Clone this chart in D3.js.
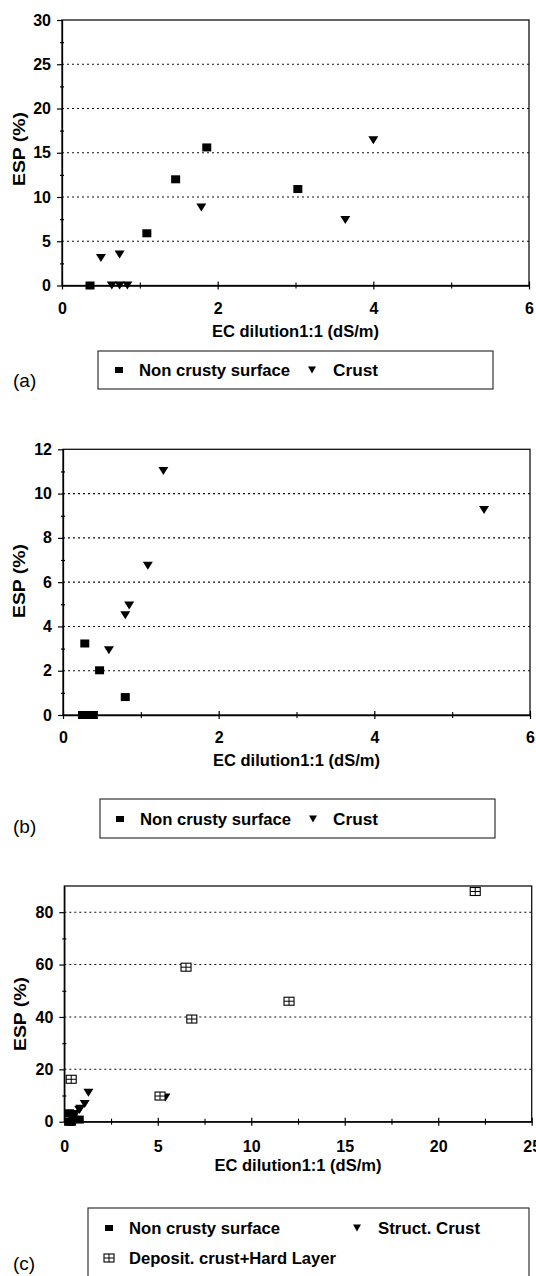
<!DOCTYPE html>
<html>
<head>
<meta charset="utf-8">
<script src="https://cdn.jsdelivr.net/npm/d3@7"></script>
<style>
  html, body { margin: 0; padding: 0; background: #fff; }
  svg { display: block; }
  text { font-family: "Liberation Sans", Arial, Helvetica, sans-serif; fill: #000; }
</style>
</head>
<body>
<svg id="chart" width="536" height="1276"></svg>
<script>
// ---------- DATA ----------
// Panel (a)
const aXTicks = [0, 2, 4, 6];
const aXMinor = [1, 3, 5];
const aYTicks = [0, 5, 10, 15, 20, 25, 30];
const aYMinor = [2.5, 7.5, 12.5, 17.5, 22.5, 27.5];
const aNonCrustyEC  = [0.36, 1.09, 1.46, 1.86, 3.03];
const aNonCrustyESP = [0, 5.9, 12.0, 15.6, 10.9];
const aCrustEC  = [0.50, 0.74, 1.79, 3.64, 4.00, 0.64, 0.74, 0.84];
const aCrustESP = [3.1, 3.5, 8.8, 7.4, 16.4, 0, 0, 0];

// Panel (b)
const bXTicks = [0, 2, 4, 6];
const bXMinor = [1, 3, 5];
const bYTicks = [0, 2, 4, 6, 8, 10, 12];
const bYMinor = [1, 3, 5, 7, 9, 11];
const bNonCrustyEC  = [0.28, 0.47, 0.80, 0.25, 0.32, 0.39];
const bNonCrustyESP = [3.23, 2.02, 0.81, 0, 0, 0];
const bCrustEC  = [1.29, 5.41, 1.09, 0.85, 0.80, 0.59];
const bCrustESP = [11.02, 9.26, 6.74, 4.94, 4.51, 2.92];

// Panel (c)
const cXTicks = [0, 5, 10, 15, 20, 25];
const cXMinor = [2.5, 7.5, 12.5, 17.5, 22.5];
const cYTicks = [0, 20, 40, 60, 80];
const cYMinor = [10, 30, 50, 70];
const cYMax = 90;
const cNonCrustyEC  = [0.28, 0.47, 0.80, 0.25, 0.32, 0.39];
const cNonCrustyESP = [3.23, 2.02, 0.81, 0, 0, 0];
const cStructCrustEC  = [1.29, 5.41, 1.09, 0.85, 0.80, 0.59];
const cStructCrustESP = [11.02, 9.26, 6.74, 4.94, 4.51, 2.92];
const cDepositEC  = [0.37, 5.12, 6.51, 6.82, 12.02, 21.98];
const cDepositESP = [16.2, 9.8, 59.0, 39.2, 46.0, 87.9];

const xTitle = "EC dilution1:1 (dS/m)";
const yTitle = "ESP (%)";
const legNonCrusty = "Non crusty surface";
const legCrust = "Crust";
const legStruct = "Struct. Crust";
const legDeposit = "Deposit. crust+Hard Layer";
const panelLabels = ["(a)", "(b)", "(c)"];

// ---------- DRAWING ----------
const svg = d3.select("#chart");
const zip = (xs, ys) => xs.map((x, i) => ({x, y: ys[i]}));
const fmt = d3.format("d");
const FONT = 16;

function drawSquare(g, x, y, w, h) {
  g.append("rect").attr("x", x - w/2).attr("y", y - h/2)
    .attr("width", w).attr("height", h).attr("fill", "#000");
}
function drawTriangle(g, x, y, w, h) {
  g.append("path")
    .attr("d", `M${x - w/2},${y - h/2}L${x + w/2},${y - h/2}L${x},${y + h/2}Z`)
    .attr("fill", "#000");
}
function drawDeposit(g, x, y, w, h) {
  g.append("rect").attr("x", x - w/2).attr("y", y - h/2)
    .attr("width", w).attr("height", h)
    .attr("fill", "#fff").attr("stroke", "#000").attr("stroke-width", 1.1);
  g.append("line").attr("x1", x).attr("x2", x).attr("y1", y - h/2).attr("y2", y + h/2)
    .attr("stroke", "#000").attr("stroke-width", 1);
  g.append("line").attr("x1", x - w/2).attr("x2", x + w/2).attr("y1", y).attr("y2", y)
    .attr("stroke", "#000").attr("stroke-width", 1);
}

function panel(cfg) {
  const g = svg.append("g");
  const x = d3.scaleLinear().domain(cfg.xDomain).range([cfg.left, cfg.right]);
  const y = d3.scaleLinear().domain(cfg.yDomain).range([cfg.bottom, cfg.top]);

  // dotted gridlines at labeled y ticks except 0 and top
  g.append("g").selectAll("line")
    .data(cfg.yTicks.filter(v => v !== cfg.yDomain[0] && v !== cfg.yDomain[1]))
    .join("line")
    .attr("x1", cfg.left).attr("x2", cfg.right)
    .attr("y1", d => y(d)).attr("y2", d => y(d))
    .attr("stroke", "#111").attr("stroke-width", 1.1)
    .attr("stroke-dasharray", "2,3");

  // frame
  g.append("rect")
    .attr("x", cfg.left).attr("y", cfg.top)
    .attr("width", cfg.right - cfg.left).attr("height", cfg.bottom - cfg.top)
    .attr("fill", "none").attr("stroke", "#111").attr("stroke-width", 1.3);

  // y axis
  const yAx = g.append("g").attr("transform", `translate(${cfg.left},0)`)
    .call(d3.axisLeft(y).tickValues(cfg.yTicks).tickFormat(fmt)
      .tickSize(5).tickSizeOuter(0).tickPadding(6));
  yAx.select(".domain").attr("stroke", "#000").attr("stroke-width", 1.3);
  yAx.selectAll(".tick line").attr("stroke", "#000").attr("stroke-width", 1.2);
  yAx.selectAll(".tick text")
    .attr("font-family", "Liberation Sans, Arial, sans-serif")
    .attr("font-size", FONT).attr("font-weight", "bold").attr("fill", "#000");
  const yMi = g.append("g").attr("transform", `translate(${cfg.left},0)`)
    .call(d3.axisLeft(y).tickValues(cfg.yMinor).tickSize(2).tickFormat(""));
  yMi.select(".domain").remove();
  yMi.selectAll(".tick line").attr("x1", 2).attr("stroke", "#000").attr("stroke-width", 1.2);

  // x axis with crossing ticks
  const xAx = g.append("g").attr("transform", `translate(0,${cfg.bottom})`)
    .call(d3.axisBottom(x).tickValues(cfg.xTicks).tickFormat(fmt)
      .tickSize(4).tickSizeOuter(0).tickPadding(cfg.xPad));
  xAx.select(".domain").attr("stroke", "#000").attr("stroke-width", 1.3);
  xAx.selectAll(".tick line").attr("y1", -4).attr("stroke", "#000").attr("stroke-width", 1.2);
  xAx.selectAll(".tick text")
    .attr("font-family", "Liberation Sans, Arial, sans-serif")
    .attr("font-size", FONT).attr("font-weight", "bold").attr("fill", "#000");
  const xMi = g.append("g").attr("transform", `translate(0,${cfg.bottom})`)
    .call(d3.axisBottom(x).tickValues(cfg.xMinor).tickSize(3).tickFormat(""));
  xMi.select(".domain").remove();
  xMi.selectAll(".tick line").attr("y1", -3).attr("stroke", "#000").attr("stroke-width", 1.1);

  // axis titles
  g.append("text")
    .attr("x", (cfg.left + cfg.right) / 2).attr("y", cfg.xTitleY)
    .attr("text-anchor", "middle").attr("dominant-baseline", "central")
    .attr("font-size", FONT).attr("font-weight", "bold")
    .attr("textLength", 167).attr("lengthAdjust", "spacingAndGlyphs")
    .text(xTitle);
  g.append("text")
    .attr("transform", `translate(${cfg.yTitleX},${cfg.yTitleY}) rotate(-90)`)
    .attr("text-anchor", "middle").attr("dominant-baseline", "central")
    .attr("font-size", FONT).attr("font-weight", "bold")
    .attr("textLength", 74).attr("lengthAdjust", "spacingAndGlyphs")
    .text(yTitle);

  // data markers
  const mk = g.append("g");
  cfg.series.forEach(s => {
    s.points.forEach(p => {
      const px = x(p.x), py = y(p.y);
      if (s.shape === "square") drawSquare(mk, px, py, 9, 8);
      else if (s.shape === "triangle") drawTriangle(mk, px, py, 10, 8);
      else drawDeposit(mk, px, py, 10, 8);
    });
  });

  // panel label
  g.append("text").attr("x", 13).attr("y", cfg.labelY)
    .attr("dominant-baseline", "central")
    .attr("font-size", 19).text(cfg.label);

  // legend
  const lg = g.append("g");
  lg.append("rect")
    .attr("x", cfg.legend.x0).attr("y", cfg.legend.y0)
    .attr("width", cfg.legend.x1 - cfg.legend.x0).attr("height", cfg.legend.y1 - cfg.legend.y0)
    .attr("fill", "#fff").attr("stroke", "#222").attr("stroke-width", 1.1);
  cfg.legend.items.forEach(it => {
    if (it.shape === "square") drawSquare(lg, it.mx, it.y, 8, 6);
    else if (it.shape === "triangle") drawTriangle(lg, it.mx, it.y, 8, 7);
    else drawDeposit(lg, it.mx, it.y, 10, 8);
    lg.append("text").attr("x", it.tx).attr("y", it.y)
      .attr("dominant-baseline", "central")
      .attr("font-size", FONT).attr("font-weight", "bold")
      .attr("textLength", it.len).attr("lengthAdjust", "spacingAndGlyphs")
      .text(it.text);
  });
}

panel({
  xDomain: [0, 6], yDomain: [0, 30],
  left: 62, right: 529, top: 20, bottom: 285.5,
  xTicks: aXTicks, xMinor: aXMinor, yTicks: aYTicks, yMinor: aYMinor,
  xPad: 13, xTitleY: 331, yTitleX: 19, yTitleY: 149,
  series: [
    {shape: "square", points: zip(aNonCrustyEC, aNonCrustyESP)},
    {shape: "triangle", points: zip(aCrustEC, aCrustESP)}
  ],
  label: panelLabels[0], labelY: 380,
  legend: {x0: 98, x1: 493, y0: 351, y1: 389, items: [
    {shape: "square", mx: 119, tx: 139, y: 370, text: legNonCrusty, len: 151},
    {shape: "triangle", mx: 312, tx: 333, y: 370, text: legCrust, len: 45}
  ]}
});

panel({
  xDomain: [0, 6], yDomain: [0, 12],
  left: 63, right: 530, top: 449.3, bottom: 715,
  xTicks: bXTicks, xMinor: bXMinor, yTicks: bYTicks, yMinor: bYMinor,
  xPad: 13, xTitleY: 760, yTitleX: 19, yTitleY: 581,
  series: [
    {shape: "square", points: zip(bNonCrustyEC, bNonCrustyESP)},
    {shape: "triangle", points: zip(bCrustEC, bCrustESP)}
  ],
  label: panelLabels[1], labelY: 826,
  legend: {x0: 100, x1: 495, y0: 799, y1: 838, items: [
    {shape: "square", mx: 120, tx: 140, y: 819, text: legNonCrusty, len: 151},
    {shape: "triangle", mx: 313, tx: 333, y: 819, text: legCrust, len: 45}
  ]}
});

panel({
  xDomain: [0, 25], yDomain: [0, cYMax],
  left: 64.3, right: 531.7, top: 886, bottom: 1121.7,
  xTicks: cXTicks, xMinor: cXMinor, yTicks: cYTicks, yMinor: cYMinor,
  xPad: 14.5, xTitleY: 1165, yTitleX: 20, yTitleY: 1014,
  series: [
    {shape: "square", points: zip(cNonCrustyEC, cNonCrustyESP)},
    {shape: "triangle", points: zip(cStructCrustEC, cStructCrustESP)},
    {shape: "deposit", points: zip(cDepositEC, cDepositESP)}
  ],
  label: panelLabels[2], labelY: 1263,
  legend: {x0: 88, x1: 529, y0: 1208, y1: 1295, items: [
    {shape: "square", mx: 109, tx: 129, y: 1228, text: legNonCrusty, len: 151},
    {shape: "triangle", mx: 357, tx: 378, y: 1228, text: legStruct, len: 102},
    {shape: "deposit", mx: 109, tx: 129, y: 1258, text: legDeposit, len: 207}
  ]}
});
</script>
</body>
</html>
